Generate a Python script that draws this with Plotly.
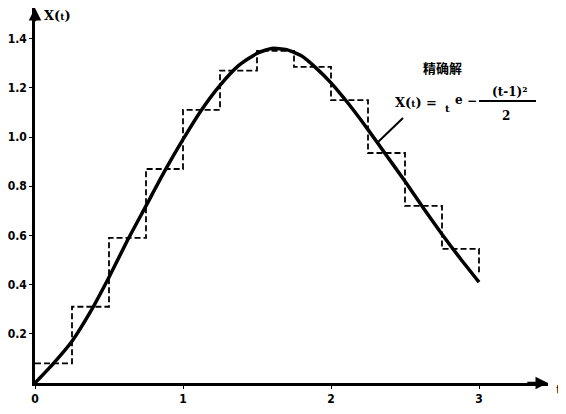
import plotly.graph_objects as go

# Exact solution curve
t_curve = [0, 0.125, 0.25, 0.375, 0.5, 0.625, 0.75, 0.875, 1.0, 1.125, 1.25, 1.375, 1.5, 1.6, 1.7, 1.8, 1.9, 2.0, 2.125, 2.25, 2.375, 2.5, 2.625, 2.75, 2.875, 3.0]
x_curve = [0, 0.08, 0.17, 0.29, 0.43, 0.58, 0.72, 0.86, 0.99, 1.11, 1.21, 1.29, 1.34, 1.36, 1.355, 1.33, 1.28, 1.22, 1.13, 1.03, 0.925, 0.82, 0.71, 0.605, 0.505, 0.41]

# Step (numerical) approximation, step 0.25
t_step = [0, 0.25, 0.5, 0.75, 1.0, 1.25, 1.5, 1.75, 2.0, 2.25, 2.5, 2.75, 3.0]
x_step = [0.08, 0.31, 0.59, 0.87, 1.11, 1.27, 1.35, 1.285, 1.15, 0.935, 0.72, 0.545, 0.45]

y_ticks = [0.2, 0.4, 0.6, 0.8, 1.0, 1.2, 1.4]
y_labels = ["0.2", "0.4", "0.6", "0.8", "1.0", "1.2", "1.4"]
x_ticks = [0, 1, 2, 3]
x_labels = ["0", "1", "2", "3"]

# page offset of the figure div (default body margin)
OFF = 8
W, H = 566 - OFF, 414 - OFF
X0, X1, Y0, Y1 = 35, 548, 8, 383          # plot area in page pixels
L, R, T, B = X0 - OFF, 566 - X1, Y0 - OFF, 414 - Y1
PW, PH = X1 - X0, Y1 - Y0

def px(x):
    return (x - X0) / PW

def py(y):
    return (Y1 - y) / PH

fig = go.Figure()
fig.add_trace(go.Scatter(x=t_step, y=x_step, mode="lines", line_shape="hv",
                         line=dict(color="black", width=1.8, dash="6px,3px"), hoverinfo="skip"))
fig.add_trace(go.Scatter(x=t_curve, y=x_curve, mode="lines", line_shape="spline",
                         line=dict(color="black", width=3.5, smoothing=0.6), hoverinfo="skip"))

tickfont = dict(family="Liberation Sans Narrow, DejaVu Sans Condensed, sans-serif", size=12, color="black")
common = dict(showgrid=False, zeroline=False, showline=True, linecolor="black", linewidth=2.5,
              ticks="outside", ticklen=3, tickcolor="black", tickfont=tickfont, automargin=False)
fig.update_xaxes(range=[0, PW / 148], tickvals=x_ticks,
                 ticktext=["<b>%s</b>" % s for s in x_labels], **common)
fig.update_yaxes(range=[0, PH / 246], tickvals=y_ticks,
                 ticktext=["<b>%s</b>" % s for s in y_labels], **common)

serif = "DejaVu Serif, Liberation Serif, serif"
ann = []
def text(x, y, s, size=13, fam=serif, xa="center"):
    ann.append(dict(x=px(x), y=py(y), xref="paper", yref="paper", text=s, showarrow=False,
                    xanchor=xa, yanchor="middle", font=dict(family=fam, size=size, color="black")))

text(42, 15, "<b>X(</b><b><span style='font-size:9px'>t</span>)</b>", 13, xa="left")
text(559, 389, "<b>t</b>", 13)
text(442, 67, "<b>精确解</b>", 13, fam="Noto Sans CJK SC")
text(393, 103, "<b>X(<span style='font-size:9px'>t</span>) =</b>", 13, xa="left")
text(447, 108, "<b>t</b>", 10)
text(459, 100, "<b>e</b>", 12)
text(472, 101, "<b>−</b>", 12)
text(509, 92, "<b>(t-1)²</b>", 12)
text(506, 116, "<b>2</b>", 12)

# axis arrows
ann.append(dict(x=0, y=PH / 246, ax=0, ay=PH / 246 - 0.06, xref="x", yref="y", axref="x", ayref="y",
                showarrow=True, arrowhead=2, arrowsize=1, arrowwidth=2.5, arrowcolor="black", text=""))
ann.append(dict(x=PW / 148, y=0, ax=PW / 148 - 0.15, ay=0, xref="x", yref="y", axref="x", ayref="y",
                showarrow=True, arrowhead=2, arrowsize=1, arrowwidth=2.5, arrowcolor="black", text=""))

shapes = [
    dict(type="line", xref="paper", yref="paper", x0=px(479), y0=py(101), x1=px(536), y1=py(101),
         line=dict(color="black", width=2)),
    dict(type="line", xref="paper", yref="paper", x0=px(403), y0=py(118), x1=px(378), y1=py(142),
         line=dict(color="black", width=2)),
]

fig.update_layout(width=W, height=H, margin=dict(l=L, r=R, t=T, b=B, autoexpand=False), showlegend=False,
                  plot_bgcolor="white", paper_bgcolor="white", annotations=ann, shapes=shapes)

fig.write_html("out.html")
